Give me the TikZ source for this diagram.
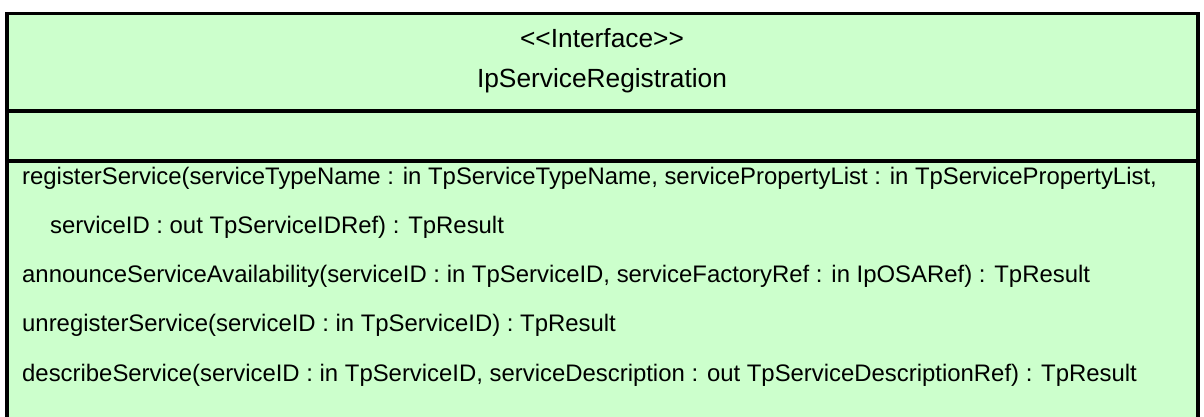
\documentclass[tikz,border=0pt]{standalone}
\usepackage{fontspec}
\setmainfont{Liberation Sans}[Ligatures=NoCommon]
\definecolor{umlgreen}{HTML}{CCFFCC}
\tikzset{
  hdr/.style={anchor=base, inner sep=0pt, font=\fontsize{26.3}{30}\selectfont},
  op/.style={anchor=base west, inner sep=0pt, font=\fontsize{23.9}{28}\selectfont},
  frame/.style={line width=3.5pt, draw=black}
}
\begin{document}
\begin{tikzpicture}[x=1pt,y=-1pt]
\useasboundingbox (0,0) rectangle (1204,417);
\begin{scope}
\clip (0,0) rectangle (1204,417);
\fill[umlgreen] (7,13.5) rectangle (1198,430);
\draw[frame] (7,430) -- (7,13.5) -- (1198,13.5) -- (1198,430);
\draw[frame] (7,111) -- (1198,111);
\draw[frame] (7,161) -- (1198,161);
\end{scope}
\node[hdr] (stereo) at (602,48) {\symbol{60}\symbol{60}Interface\symbol{62}\symbol{62}};
\node[hdr] (name) at (602,87.5) {IpServiceRegistration};
\node[op] (op1) at (22,184) {registerService(serviceTypeName : in TpServiceTypeName, servicePropertyList : in TpServicePropertyList,};
\node[op] (op1b) at (50,233) {serviceID : out TpServiceIDRef) : TpResult};
\node[op] (op2) at (22,282) {announceServiceAvailability(serviceID : in TpServiceID, serviceFactoryRef : in IpOSARef) : TpResult};
\node[op] (op3) at (22,331) {unregisterService(serviceID : in TpServiceID) : TpResult};
\node[op] (op4) at (22,381) {describeService(serviceID : in TpServiceID, serviceDescription : out TpServiceDescriptionRef) : TpResult};
\end{tikzpicture}
\end{document}
